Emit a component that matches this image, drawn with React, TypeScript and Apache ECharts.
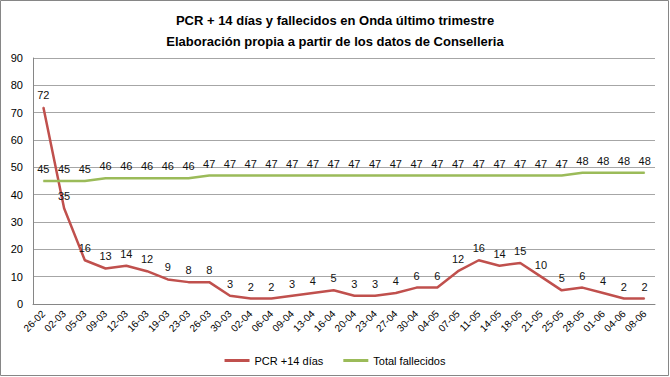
import React, { useEffect, useRef } from "react";
import * as echarts from "echarts";

const categories = ["26-02","02-03","05-03","09-03","12-03","16-03","19-03","23-03","26-03","30-03","02-04","06-04","09-04","13-04","16-04","20-04","23-04","27-04","30-04","04-05","07-05","11-05","14-05","18-05","21-05","25-05","28-05","01-06","04-06","08-06"];
const pcr14 = [72,35,16,13,14,12,9,8,8,3,2,2,3,4,5,3,3,4,6,6,12,16,14,15,10,5,6,4,2,2];
const fallecidos = [45,45,45,46,46,46,46,46,47,47,47,47,47,47,47,47,47,47,47,47,47,47,47,47,47,47,48,48,48,48];
const titleLines = ["PCR + 14 días y fallecidos en Onda último trimestre", "Elaboración propia a partir de los datos de Conselleria"];

const FONT = "'Liberation Sans', Arial, sans-serif";

export default function App() {
  const ref = useRef<HTMLDivElement>(null);
  useEffect(() => {
    document.body.style.margin = "0";
    const chart = echarts.init(ref.current!, null, { renderer: "svg" });
    const labelStyle = { show: true, position: "top", fontSize: 11, color: "#111111", distance: 6, fontFamily: FONT };
    chart.setOption({
      animation: false,
      color: ["#C0504D", "#9BBB59"],
      backgroundColor: "#ffffff",
      textStyle: { fontFamily: FONT, color: "#000" },
      title: {
        text: titleLines.join("\n"),
        left: "center",
        top: 5,
        textStyle: { fontSize: 13, fontWeight: "bold", color: "#000", lineHeight: 21, fontFamily: FONT },
      },
      legend: {
        bottom: 6,
        left: "center",
        itemWidth: 25,
        itemHeight: 3,
        itemGap: 20,
        icon: "rect",
        selectedMode: false,
        textStyle: { fontSize: 11, color: "#000", fontFamily: FONT },
        data: ["PCR +14 días", "Total fallecidos"],
      },
      grid: { left: 33, right: 15, top: 58, bottom: 73 },
      xAxis: {
        type: "category",
        data: categories,
        boundaryGap: true,
        axisLine: { lineStyle: { color: "#868686", width: 1 } },
        axisTick: { show: false },
        axisLabel: { rotate: 45, interval: 0, fontSize: 10, color: "#000", margin: 8, fontFamily: FONT },
      },
      yAxis: {
        type: "value",
        min: 0,
        max: 90,
        interval: 10,
        axisLine: { show: true, lineStyle: { color: "#868686" } },
        axisTick: { show: false },
        splitLine: { lineStyle: { color: "#a6a6a6" } },
        axisLabel: { fontSize: 11, color: "#000", margin: 10, fontFamily: FONT },
      },
      series: [
        {
          name: "PCR +14 días",
          type: "line",
          data: pcr14,
          symbol: "circle",
          symbolSize: 1,
          showSymbol: true,
          silent: true,
          emphasis: { disabled: true },
          itemStyle: { color: "#C0504D" },
          lineStyle: { color: "#C0504D", width: 2.5 },
          label: labelStyle,
          labelLayout: { hideOverlap: false },
        },
        {
          name: "Total fallecidos",
          type: "line",
          data: fallecidos,
          symbol: "circle",
          symbolSize: 1,
          showSymbol: true,
          silent: true,
          emphasis: { disabled: true },
          itemStyle: { color: "#9BBB59" },
          lineStyle: { color: "#9BBB59", width: 2.5 },
          label: labelStyle,
          labelLayout: { hideOverlap: false },
        },
      ],
      graphic: [
        {
          type: "rect",
          shape: { x: 0.5, y: 0.5, width: 668, height: 375 },
          style: { fill: "none", stroke: "#868686", lineWidth: 1 },
          silent: true,
        },
      ],
    });
    return () => chart.dispose();
  }, []);
  return <div ref={ref} style={{ position: "fixed", left: 0, top: 0, width: 670, height: 377 }} />;
}
